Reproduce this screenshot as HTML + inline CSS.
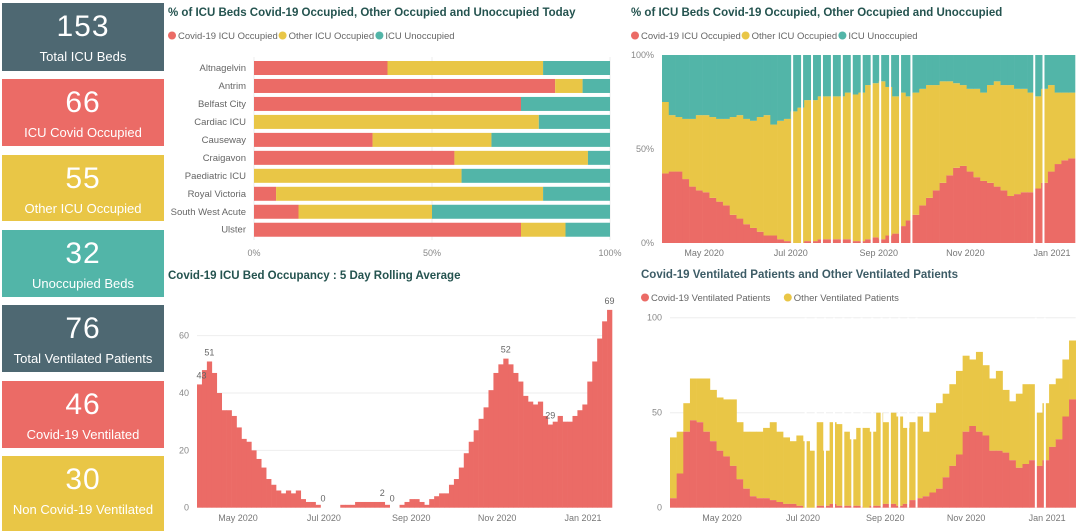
<!DOCTYPE html>
<html><head><meta charset="utf-8">
<style>
body{margin:0;width:1080px;height:531px;background:#fff;overflow:hidden;font-family:"Liberation Sans",sans-serif;position:relative}
.card{position:absolute;left:2px;width:162px;color:#fff;text-align:center}
.card .num{font-size:30px;margin-top:7px;letter-spacing:1px}
.card .lab{font-size:13px;margin-top:5px}
svg{position:absolute;left:0;top:0}
</style></head><body>
<div class="card" style="top:3px;height:68px;background:#4e6872"><div class="num">153</div><div class="lab">Total ICU Beds</div></div>
<div class="card" style="top:79px;height:67px;background:#eb6b66"><div class="num">66</div><div class="lab">ICU Covid Occupied</div></div>
<div class="card" style="top:155px;height:66px;background:#e9c646"><div class="num">55</div><div class="lab">Other ICU Occupied</div></div>
<div class="card" style="top:230px;height:67px;background:#52b5a8"><div class="num">32</div><div class="lab">Unoccupied Beds</div></div>
<div class="card" style="top:305px;height:67px;background:#4e6872"><div class="num">76</div><div class="lab">Total Ventilated Patients</div></div>
<div class="card" style="top:381px;height:67px;background:#eb6b66"><div class="num">46</div><div class="lab">Covid-19 Ventilated</div></div>
<div class="card" style="top:456px;height:75px;background:#e9c646"><div class="num">30</div><div class="lab">Non Covid-19 Ventilated</div></div>

<svg id="svg" width="1080" height="531" xmlns="http://www.w3.org/2000/svg" font-family="Liberation Sans, sans-serif"></svg>

<script>
// Chart 1: today by hospital (cumulative %)
const hospitals=["Altnagelvin","Antrim","Belfast City","Cardiac ICU","Causeway","Craigavon","Paediatric ICU","Royal Victoria","South West Acute","Ulster"];
const hospCovidPct=[37.5,84.6,75,0,33.3,56.3,0,6.2,12.5,75];
const hospOccupiedPct=[81.2,92.3,75,80,66.7,93.8,58.3,81.2,50,87.5];
const pctTicks=["0%","50%","100%"];

// Chart 2: 100% stacked over time (5-day bins)
const icuCovidPct=[37,38,38,34,30,28,27,24,22,20,15,13,10,8,6,4,4,2,1,0,0,1,1,2,2,2,2,2,1,1,2,3,2,4,5,9,12,15,20,24,28,32,36,40,41,38,35,33,32,30,28,25,26,27,27,29,32,38,42,44,45];
const icuOccupiedPct=[75,68,67,66,66,68,68,67,66,66,67,68,66,65,67,68,63,65,66,70,72,76,76,78,78,78,78,80,79,80,84,85,86,83,78,80,78,80,82,84,84,86,86,85,84,82,82,80,84,86,84,84,82,82,80,78,82,84,80,80,80];
const icuGapDays=[92,99,106,113,120,127,134,141,148,154,161,168,176,262.5,269];

// Chart 3: 5-day rolling average
const rollingAvg=[43,48,51,47,40,34,34,32,28,24,23,20,17,14,10,8,6,5,6,5,6,3,2,2,1,0,0,0,0,1,1,1,2,2,2,2,2,2,1,0,0,1,2,3,3,2,1,3,4,5,5,8,10,14,19,23,27,31,35,41,47,50,52,50,47,44,39,37,36,37,32,29,30,32,30,30,32,34,36,44,51,59,65,69];
const rollingLabelIdx=[0,2,25,37,39,62,71,83];
const rollingLabelText=["43","51","0","2","0","52","29","69"];
const rollTicks=[0,20,40,60];

// Chart 4: ventilated stacked
const ventCovid=[5,18,40,46,45,40,35,30,27,22,15,10,6,5,5,4,3,2,2,1,0,0,1,1,2,1,1,1,1,0,1,1,2,2,1,2,4,5,6,8,10,16,22,28,40,43,40,38,30,30,29,25,21,23,25,22,25,32,36,48,57];
const ventTotal=[37,40,55,68,68,68,62,58,57,57,45,40,40,40,42,45,40,37,35,38,35,30,45,30,45,44,40,36,42,42,40,50,45,50,48,42,45,48,40,50,55,60,65,72,80,78,82,75,68,72,62,56,60,65,65,50,55,65,68,78,88];
const ventGapDays=[93,100.6,107.6,114.4,121.4,128.2,135.2,143.2,150.3,156.5,163.5,170.3,176.6,266.5,273.3];
const ventTicks=[0,50,100];

const monthLabels=["May 2020","Jul 2020","Sep 2020","Nov 2020","Jan 2021"];
const monthDays=[30,91,153,214,275];

const RED="#eb6b66",YEL="#e9c646",TEAL="#52b5a8";
const svg=document.getElementById('svg');
const NS="http://www.w3.org/2000/svg";
function mk(tag,attrs,parent){const e=document.createElementNS(NS,tag);for(const k in attrs)e.setAttribute(k,attrs[k]);(parent||svg).appendChild(e);return e;}
function txt(s,attrs,parent){const e=mk('text',attrs,parent);e.textContent=s;return e;}

function legend(x,y,items,g){
  let cx=x;
  items.forEach(it=>{
    const c=mk('circle',{cx:cx+4,cy:y-3.5,r:4,fill:it[1]},g);
    
    
    const t=txt(it[0],{x:cx+10,y:y,'font-size':9.5,fill:'#666'},g);
    
    
    cx+=14+it[0].length*4.6;
  });
}

// ---------- Chart 1 ----------
(function(){
  const g=mk('g',{});
  
  
  const t=txt("% of ICU Beds Covid-19 Occupied, Other Occupied and Unoccupied Today",{x:168,y:16,'font-size':11.5,'font-weight':'bold',fill:'#24534f'},g);
  
  
  legend(168,39,[["Covid-19 ICU Occupied",RED],["Other ICU Occupied",YEL],["ICU Unoccupied",TEAL]],g);
  const x0=254,x1=610;const xs=v=>x0+(x1-x0)*v/100;
  [0,50,100].forEach((v,i)=>{
    const l=mk('line',{x1:xs(v),x2:xs(v),y1:57,y2:240,stroke:'#eee'},g);
    
    
    const tt=txt(pctTicks[i],{x:xs(v),y:256,'font-size':9,fill:'#888','text-anchor':'middle'},g);
    
    
  });
  const pitch=17.97,y0=61,h=14;
  hospitals.forEach((name,i)=>{
    const y=y0+i*pitch;
    const lb=txt(name,{x:246,y:y+10,'font-size':9.5,fill:'#666','text-anchor':'end'},g);
    
    
    const c=hospCovidPct[i],o=hospOccupiedPct[i];
    const r1=mk('rect',{x:xs(0),y:y,width:xs(c)-xs(0),height:h,fill:RED},g);
    
    
    const r2=mk('rect',{x:xs(c),y:y,width:xs(o)-xs(c),height:h,fill:YEL},g);
    
    
    const r3=mk('rect',{x:xs(o),y:y,width:xs(100)-xs(o),height:h,fill:TEAL},g);
    
    
  });
})();

function monthAxis(g,dayToX,y){
  monthLabels.forEach((m,i)=>{
    const t=txt(m,{x:dayToX(monthDays[i]),y:y,'font-size':9,fill:'#777','text-anchor':'middle'},g);
    
    
  });
}

// ---------- Chart 2 ----------
(function(){
  const g=mk('g',{});
  
  
  const t=txt("% of ICU Beds Covid-19 Occupied, Other Occupied and Unoccupied",{x:631,y:16,'font-size':11.5,'font-weight':'bold',fill:'#24534f'},g);
  
  
  legend(631,39,[["Covid-19 ICU Occupied",RED],["Other ICU Occupied",YEL],["ICU Unoccupied",TEAL]],g);
  const x0=662,x1=1075,yb=243,yt=55;
  const ys=v=>yb-(yb-yt)*v/100;
  const dayToX=d=>661.5+d*1.42;
  [0,50,100].forEach((v,i)=>{
    const tt=txt(pctTicks[i],{x:654,y:ys(v)+3,'font-size':9,fill:'#888','text-anchor':'end'},g);
    
    
  });
  const n=icuCovidPct.length,bw=(x1-x0)/n;
  for(let i=0;i<n;i++){
    const x=x0+i*bw,c=icuCovidPct[i],o=icuOccupiedPct[i];
    const a=mk('rect',{x:x,y:ys(c),width:bw+0.3,height:ys(0)-ys(c),fill:RED},g);
    
    
    const b=mk('rect',{x:x,y:ys(o),width:bw+0.3,height:ys(c)-ys(o),fill:YEL},g);
    
    
    const d=mk('rect',{x:x,y:ys(100),width:bw+0.3,height:ys(o)-ys(100),fill:TEAL},g);
    
    
  }
  icuGapDays.forEach(dd=>{
    const r=mk('rect',{x:dayToX(dd)-1,y:yt,width:2,height:yb-yt,fill:'#fff'},g);
    
    
  });
  monthAxis(g,dayToX,256);
})();

// ---------- Chart 3 ----------
(function(){
  const g=mk('g',{});
  
  
  const t=txt("Covid-19 ICU Bed Occupancy : 5 Day Rolling Average",{x:168,y:279,'font-size':11.5,'font-weight':'bold',fill:'#24534f'},g);
  
  
  const x0=197,x1=612,yb=507.7,k=2.867;
  const ys=v=>yb-v*k;
  const dayToX=d=>195.8+d*1.408;
  rollTicks.forEach(v=>{
    if(v>0){const l=mk('line',{x1:x0,x2:x1,y1:ys(v),y2:ys(v),stroke:'#eee'},g);
      
      }
    const tt=txt(String(v),{x:189,y:ys(v)+3,'font-size':9,fill:'#888','text-anchor':'end'},g);
    
    
  });
  const n=rollingAvg.length,bw=(x1-x0)/n;
  for(let i=0;i<n;i++){
    const v=rollingAvg[i];
    const r=mk('rect',{x:x0+i*bw,y:ys(v),width:bw+0.3,height:ys(0)-ys(v),fill:RED},g);
    
    
  }
  rollingLabelIdx.forEach((idx,j)=>{
    const v=rollingAvg[idx];
    const tt=txt(rollingLabelText[j],{x:x0+idx*bw+bw/2+(j==0?2:0),y:ys(v)-6,'font-size':9,fill:'#666','text-anchor':'middle'},g);
    
    
  });
  monthAxis(g,dayToX,521);
})();

// ---------- Chart 4 ----------
(function(){
  const g=mk('g',{});
  
  
  const t=txt("Covid-19 Ventilated Patients and Other Ventilated Patients",{x:641,y:278,'font-size':11.5,'font-weight':'bold',fill:'#3d5c66'},g);
  
  
  legend(641,301,[["Covid-19 Ventilated Patients",RED],["Other Ventilated Patients",YEL]],g);
  const x0=670,x1=1075.7,yb=507.7,k=1.9;
  const ys=v=>yb-v*k;
  const dayToX=d=>682.2+d*1.327;
  ventTicks.forEach(v=>{
    if(v>0){const l=mk('line',{x1:x0,x2:x1,y1:ys(v),y2:ys(v),stroke:'#eee'},g);
      
      }
    const tt=txt(String(v),{x:662,y:ys(v)+3,'font-size':9,fill:'#888','text-anchor':'end'},g);
    
    
  });
  const n=ventCovid.length,bw=(x1-x0)/n;
  for(let i=0;i<n;i++){
    const c=ventCovid[i],tot=ventTotal[i],x=x0+i*bw;
    const b=mk('rect',{x:x,y:ys(tot),width:bw+0.3,height:ys(c)-ys(tot),fill:YEL},g);
    
    
    const a=mk('rect',{x:x,y:ys(c),width:bw+0.3,height:ys(0)-ys(c),fill:RED},g);
    
    
  }
  ventGapDays.forEach(dd=>{
    const r=mk('rect',{x:dayToX(dd)-1,y:ys(100),width:2,height:ys(0)-ys(100),fill:'#fff'},g);
    
    
  });
  monthAxis(g,dayToX,521);
})();
</script>
</body></html>
